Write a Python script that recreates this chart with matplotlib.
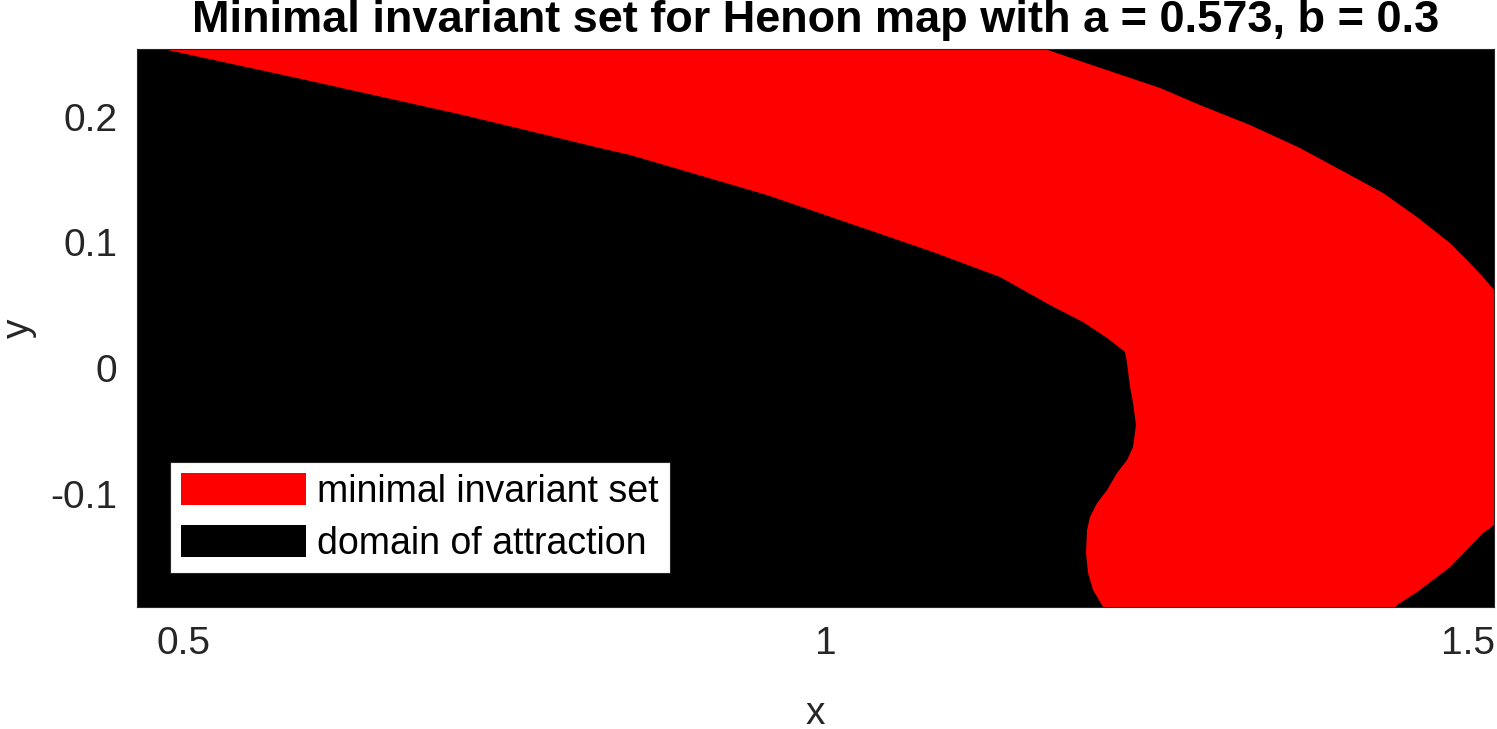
import matplotlib
matplotlib.use('Agg')
import matplotlib.pyplot as plt
from matplotlib.patches import Patch
import numpy as np

plt.rcParams['font.family'] = ['Liberation Sans', 'DejaVu Sans']

# inner (left) edge of the minimal invariant set, top -> bottom
inner_x = [0.4844, 0.5887, 0.7179, 0.8245, 0.8479, 0.9545, 1.0837, 1.1358, 1.1747,
           1.2004, 1.2191, 1.2292, 1.2331, 1.2346, 1.2370, 1.2393, 1.2416, 1.2393,
           1.2346, 1.2268, 1.2191, 1.2113, 1.2058, 1.2035, 1.2027, 1.2043, 1.2082, 1.2160]
inner_y = [0.2538, 0.2307, 0.2013, 0.1750, 0.1695, 0.1376, 0.0923, 0.0724, 0.0501,
           0.0366, 0.0239, 0.0159, 0.0127, 0.0040, -0.0151, -0.0278, -0.0453, -0.0628,
           -0.0732, -0.0835, -0.0971, -0.1074, -0.1185, -0.1289, -0.1472, -0.1631, -0.1766, -0.1901]

# outer (right) edge, top -> bottom
outer_x = [1.1708, 1.2004, 1.2603, 1.2914, 1.3304, 1.3693, 1.4082, 1.4339,
           1.4603, 1.4860, 1.4992, 1.5117, 1.5202,
           1.5202, 1.5117, 1.4860, 1.4603, 1.4447, 1.4440]
outer_y = [0.2538, 0.2434, 0.2228, 0.2092, 0.1933, 0.1750, 0.1535, 0.1392,
           0.1201, 0.0994, 0.0859, 0.0724, 0.0621,
           -0.1249, -0.1313, -0.1583, -0.1782, -0.1885, -0.1901]

xlim = (0.4642, 1.5202)
ylim = (-0.1901, 0.2538)
xticks = [0.5, 1, 1.5]
yticks = [-0.1, 0, 0.1, 0.2]
xticklabels = ['0.5', '1', '1.5']
yticklabels = ['-0.1', '0', '0.1', '0.2']

fig = plt.figure(figsize=(14.97, 7.29), dpi=100)
ax = fig.add_axes([137 / 1497, 1 - 607 / 729, 1357 / 1497, 558 / 729])
ax.set_facecolor('black')

# polygon: outer edge down, then inner edge back up
px = outer_x + inner_x[::-1]
py = outer_y + inner_y[::-1]
ax.fill(px, py, color='#ff0000', lw=0)

ax.set_xlim(xlim)
ax.set_ylim(ylim)
ax.set_xticks(xticks)
ax.set_xticklabels(xticklabels)
ax.set_yticks(yticks)
ax.set_yticklabels(yticklabels)
ax.tick_params(direction='in', color='black', labelcolor='#262626',
               labelsize=28, length=6, pad=14)
for s in ax.spines.values():
    s.set_color('#262626')
    s.set_linewidth(0.8)

ax.set_xlabel('x', fontsize=28, color='#262626', labelpad=24)
ax.set_ylabel('y', fontsize=28, color='#262626', labelpad=10)
ax.set_title('Minimal invariant set for Henon map with a = 0.573, b = 0.3',
             fontsize=32.5, fontweight='bold', pad=12)

handles = [Patch(facecolor='#ff0000', edgecolor='none'),
           Patch(facecolor='black', edgecolor='none')]
leg = ax.legend(handles, ['minimal invariant set', 'domain of attraction'],
                loc='lower left', bbox_to_anchor=(33 / 1357, 34 / 558),
                borderaxespad=0, fontsize=27, handlelength=3.33, handleheight=0.93,
                handletextpad=0.28, labelspacing=0.39, borderpad=0.3,
                fancybox=False, framealpha=1, edgecolor='#262626')
leg.get_frame().set_linewidth(0.8)

fig.savefig('out.png', dpi=100)
